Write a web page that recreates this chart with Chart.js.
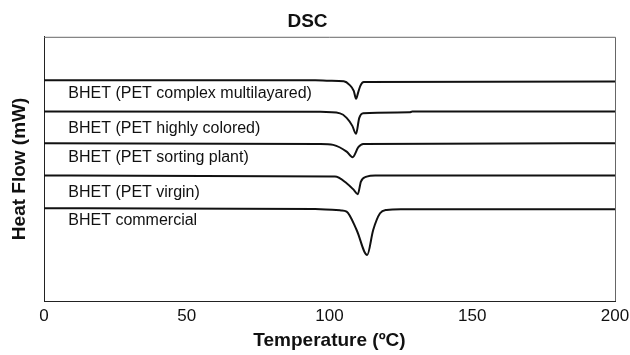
<!DOCTYPE html>
<html>
<head>
<meta charset="utf-8">
<script src="https://cdn.jsdelivr.net/npm/chart.js@4.4.0/dist/chart.umd.min.js"></script>
<style>
  html, body { margin: 0; padding: 0; background: #fff; }
  #wrap { width: 630px; height: 355px; }
</style>
</head>
<body>
<div id="wrap"><canvas id="dsc"></canvas></div>
<script>
'use strict';

/* ── DATA (temperature in °C, heat flow in arbitrary offset units) ── */
const SERIES_NAMES = [
  'BHET (PET complex multilayared)',
  'BHET (PET highly colored)',
  'BHET (PET sorting plant)',
  'BHET (PET virgin)',
  'BHET commercial'
];

const complexT  = [0, 95, 100, 105, 107, 108.5, 109.3, 110, 110.8, 112, 200];
const complexHF = [220.5, 220.5, 220, 219.5, 216, 210, 202, 208, 215, 218.8, 219.3];

const coloredT  = [0, 96.7, 103.7, 106, 108, 109.3, 110.4, 111.8, 128, 129, 200];
const coloredHF = [189.3, 189, 187.5, 183, 175, 167, 182.7, 187.7, 188.5, 189.3, 189.3];

const sortingT  = [0, 96.7, 101.3, 106, 108.1, 110.1, 111.8, 200];
const sortingHF = [157.7, 157, 156, 149.3, 143.7, 153.7, 157, 157.7];

const virginT  = [0, 101.9, 106, 108.5, 109.9, 111, 113, 116, 200];
const virginHF = [125.3, 124.3, 117.7, 111, 106.7, 119.3, 124.3, 125.3, 125.3];

const commercialT  = [0, 95, 104, 106, 109.5, 113.2, 115.3, 117.7, 120, 125, 200];
const commercialHF = [92.7, 92, 90.5, 89.3, 71, 46, 71, 87.7, 91, 91.7, 91.7];

// where each curve's name sits (°C, heat-flow units)
const LABEL_T  = [8.5, 8.5, 8.5, 8.5, 8.5];
const LABEL_HF = [207, 172, 143, 108.3, 80.3];

const X_TICKS = [0, 50, 100, 150, 200];

/* ── HELPERS ── */
const zip = (xs, ys) => xs.map((x, i) => ({ x: x, y: ys[i] }));

const curves = [
  zip(complexT, complexHF),
  zip(coloredT, coloredHF),
  zip(sortingT, sortingHF),
  zip(virginT, virginHF),
  zip(commercialT, commercialHF)
];

const FONT = "'Liberation Sans', Arial, sans-serif";

/* ── PLUGINS: frame + in-plot curve names ── */
const framePlugin = {
  id: 'frame',
  afterDatasetsDraw(chart) {
    const { ctx, chartArea: a } = chart;
    ctx.save();
    ctx.strokeStyle = '#666';
    ctx.lineWidth = 1;
    ctx.beginPath();
    ctx.moveTo(a.left, a.top + 0.5);
    ctx.lineTo(a.right + 0.5, a.top + 0.5);
    ctx.lineTo(a.right + 0.5, a.bottom);
    ctx.stroke();
    ctx.restore();
  }
};

const namePlugin = {
  id: 'curveNames',
  afterDatasetsDraw(chart) {
    const { ctx, scales } = chart;
    ctx.save();
    ctx.fillStyle = '#111';
    ctx.font = '16px ' + FONT;
    ctx.textAlign = 'left';
    ctx.textBaseline = 'middle';
    SERIES_NAMES.forEach((name, i) => {
      ctx.fillText(name, scales.x.getPixelForValue(LABEL_T[i]), scales.y.getPixelForValue(LABEL_HF[i]));
    });
    ctx.restore();
  }
};

new Chart(document.getElementById('dsc'), {
  type: 'line',
  data: {
    datasets: curves.map((pts, i) => ({
      label: SERIES_NAMES[i],
      data: pts,
      borderColor: '#111',
      borderWidth: 2,
      pointRadius: 0,
      cubicInterpolationMode: 'monotone',
      fill: false
    }))
  },
  options: {
    responsive: true,
    maintainAspectRatio: false,
    animation: false,
    layout: { padding: { right: 15 } },
    plugins: {
      legend: { display: false },
      tooltip: { enabled: false },
      title: {
        display: true,
        text: 'DSC',
        color: '#111',
        font: { family: FONT, size: 19, weight: 'bold' },
        padding: { top: 10, bottom: 4 }
      }
    },
    scales: {
      x: {
        type: 'linear',
        min: 0,
        max: 200,
        afterBuildTicks: s => { s.ticks = X_TICKS.map(v => ({ value: v })); },
        afterFit: s => { s.height = 54; s.paddingRight = 0; },
        grid: { display: false, drawTicks: false },
        border: { display: true, color: '#222', width: 1 },
        ticks: { color: '#111', padding: 5, maxRotation: 0, font: { family: FONT, size: 17 } },
        title: {
          display: true,
          text: 'Temperature (ºC)',
          color: '#111',
          font: { family: FONT, size: 19, weight: 'bold' },
          padding: { top: 0, bottom: 3 }
        }
      },
      y: {
        type: 'linear',
        min: 0,
        max: 264,
        afterFit: s => { s.width = 44; },
        grid: { display: false, drawTicks: false },
        border: { display: true, color: '#222', width: 1 },
        ticks: { display: false },
        title: {
          display: true,
          text: 'Heat Flow (mW)',
          color: '#111',
          font: { family: FONT, size: 19, weight: 'bold' },
          padding: { top: 8, bottom: 0 }
        }
      }
    }
  },
  plugins: [framePlugin, namePlugin]
});
</script>
</body>
</html>
